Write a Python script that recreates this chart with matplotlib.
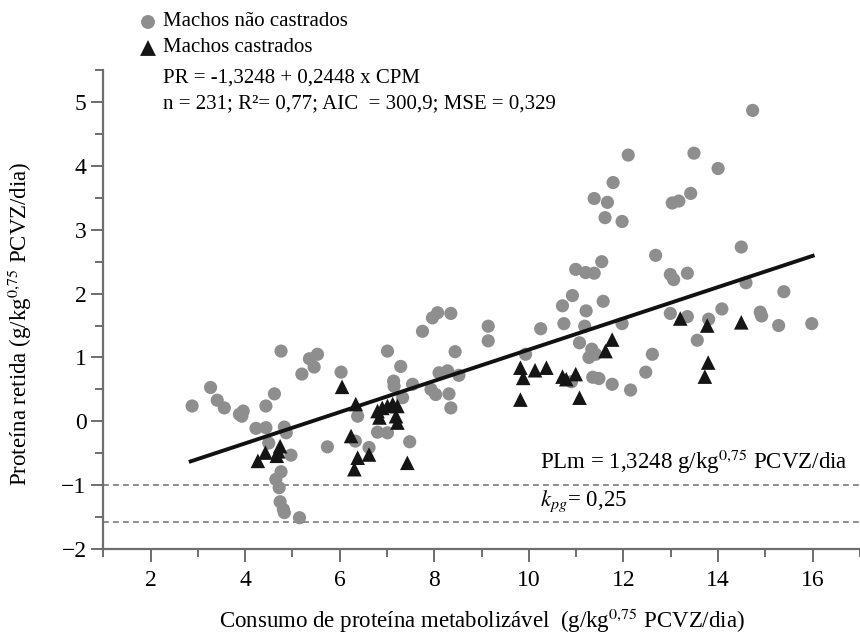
import numpy as np
import matplotlib
matplotlib.use("Agg")
import matplotlib.pyplot as plt
from matplotlib.ticker import MultipleLocator

plt.rcParams['font.family'] = ['Liberation Serif', 'DejaVu Serif']
plt.rcParams['mathtext.fontset'] = 'stix'

# Machos não castrados (CPM, PR)
nc_x = [2.88, 3.27, 3.41, 3.56, 3.88, 3.96, 3.93, 4.23, 4.44, 4.44, 4.62, 4.76,
        4.50, 4.83, 4.87, 4.97, 4.76, 4.65, 4.72, 4.74, 4.81, 4.83, 5.15, 5.20,
        5.36, 5.53, 5.46, 6.03, 5.74, 6.38, 6.33, 6.62, 6.80, 7.01, 7.01, 7.29,
        7.14, 7.15, 7.54, 7.33, 7.48, 7.75, 7.96, 8.07, 8.35, 7.93, 8.03, 8.31,
        8.35, 8.10, 8.28, 8.52, 8.44, 9.14, 9.14, 9.93, 10.25, 10.71, 10.74, 11.21,
        11.18, 11.07, 11.33, 11.41, 11.27, 11.97, 12.61, 12.47, 11.35, 11.48, 11.76,
        12.15, 12.99, 13.35, 13.56, 14.08, 14.89, 14.92, 15.28, 15.98, 10.90, 13.80,
        15.39, 14.59, 14.49, 14.73, 14.00, 13.49, 13.42, 13.17, 13.03, 12.10, 11.78,
        11.38, 11.66, 11.61, 11.97, 12.68, 11.54, 10.99, 11.20, 11.38, 12.99, 13.06,
        13.35, 10.92, 11.57]
nc_y = [0.24, 0.53, 0.33, 0.21, 0.11, 0.16, 0.08, -0.11, -0.10, 0.24, 0.43, 1.10,
        -0.34, -0.09, -0.18, -0.53, -0.79, -0.91, -1.04, -1.26, -1.38, -1.43, -1.51, 0.74,
        0.98, 1.05, 0.85, 0.77, -0.40, 0.08, -0.31, -0.41, -0.17, -0.18, 1.10, 0.86,
        0.63, 0.55, 0.58, 0.37, -0.32, 1.41, 1.62, 1.70, 1.69, 0.50, 0.42, 0.43,
        0.21, 0.76, 0.79, 0.72, 1.09, 1.49, 1.26, 1.05, 1.45, 1.81, 1.53, 1.73,
        1.49, 1.23, 1.13, 1.05, 1.00, 1.53, 1.05, 0.77, 0.69, 0.67, 0.58,
        0.49, 1.69, 1.64, 1.27, 1.76, 1.71, 1.65, 1.50, 1.53, 0.62, 1.60,
        2.03, 2.17, 2.73, 4.87, 3.96, 4.20, 3.57, 3.45, 3.42, 4.17, 3.74,
        3.49, 3.43, 3.19, 3.13, 2.60, 2.50, 2.38, 2.33, 2.32, 2.30, 2.22,
        2.32, 1.97, 1.88]

# Machos castrados (CPM, PR)
c_x = [4.27, 4.43, 4.67, 4.74, 4.70, 6.05, 6.34, 6.24, 6.38, 6.31, 6.62, 6.80,
       6.90, 7.01, 7.12, 7.22, 6.84, 7.19, 7.22, 7.43, 9.82, 9.88, 10.13, 10.37,
       9.82, 10.71, 10.79, 10.99, 11.07, 11.62, 11.76, 13.20, 13.77, 14.49, 13.79,
       13.72]
c_y = [-0.62, -0.49, -0.54, -0.39, -0.47, 0.54, 0.27, -0.23, -0.57, -0.75, -0.52, 0.16,
       0.21, 0.24, 0.27, 0.24, 0.06, 0.08, -0.02, -0.65, 0.84, 0.68, 0.80, 0.84,
       0.34, 0.70, 0.66, 0.74, 0.37, 1.10, 1.28, 1.61, 1.50, 1.55, 0.92,
       0.70]

# Regression PR = a + b * CPM
intercept = -1.3248
slope = 0.2448
fit_range = [2.85, 16.0]

# Reference lines
plm_line = -1.0
kpg_line = -1.57

gray = '#8e8e8e'
tri_col = '#151515'
spine_col = '#6e6e6e'

fig = plt.figure(figsize=(8.6, 6.38), dpi=100)
ax = fig.add_axes([0.12, 0.1395, 0.88, 0.7505])

ax.scatter(nc_x, nc_y, s=90, color=gray, edgecolors='none', zorder=2)
ax.scatter(c_x, c_y, s=110, marker='^', color=tri_col, edgecolors='none', zorder=3)

xf = np.array(fit_range)
ax.plot(xf, intercept + slope * xf, color='#111111', lw=2.8, zorder=4)

for yv in (plm_line, kpg_line):
    ax.axhline(yv, color='#7a7a7a', lw=1.2, ls=(0, (3.5, 2.5)), zorder=1)

ax.set_xlim(1, 17)
ax.set_ylim(-2, 5.5)
ax.xaxis.set_minor_locator(MultipleLocator(1))
ax.yaxis.set_minor_locator(MultipleLocator(0.5))
ax.set_xticks([2, 4, 6, 8, 10, 12, 14, 16])
ax.set_yticks([-2, -1, 0, 1, 2, 3, 4, 5])
ax.set_yticklabels(['\u22122', '\u22121', '0', '1', '2', '3', '4', '5'])

for side in ('top', 'right'):
    ax.spines[side].set_visible(False)
for side in ('left', 'bottom'):
    ax.spines[side].set_color(spine_col)
    ax.spines[side].set_linewidth(1.6)

ax.tick_params(which='major', length=9, width=1.4, color=spine_col,
               labelsize=17, direction='out')
ax.tick_params(axis='y', which='major', pad=3)
ax.tick_params(axis='x', which='major', pad=6)
ax.tick_params(which='minor', length=6, width=1.4, color=spine_col, direction='out')

ax.set_xlabel('Consumo de proteína metabolizável  (g/kg$^{0{,}75}$ PCVZ/dia)',
              fontsize=16.5, labelpad=11)
ax.set_ylabel('Proteína retida (g/kg$^{0{,}75}$ PCVZ/dia)', fontsize=16.5)
ax.yaxis.set_label_coords(-0.092, 0.47)

ax.text(10.23, -0.63, 'PLm = 1,3248 g/kg$^{0{,}75}$ PCVZ/dia', fontsize=16.5,
        ha='left', va='center')
ax.text(10.23, -1.25, '$k_{pg}$= 0,25', fontsize=16.5, ha='left', va='center')

# Legend and equation block above the axes
fig_w, fig_h = 860.0, 638.0
def fx(px):
    return px / fig_w
def fy(py):
    return 1 - py / fig_h

ax.scatter([fx(148)], [fy(22)], s=100, color=gray, edgecolors='none',
           transform=fig.transFigure, clip_on=False)
ax.scatter([fx(148)], [fy(48)], s=130, marker='^', color=tri_col, edgecolors='none',
           transform=fig.transFigure, clip_on=False)
fig.text(fx(163), fy(22), 'Machos não castrados', fontsize=15, ha='left', va='center')
fig.text(fx(163), fy(48), 'Machos castrados', fontsize=15, ha='left', va='center')
fig.text(fx(163), fy(78), 'PR = -1,3248 + 0,2448 x CPM', fontsize=15, ha='left', va='center')
fig.text(fx(163), fy(104), 'n = 231; R²= 0,77; AIC  = 300,9; MSE = 0,329', fontsize=15,
         ha='left', va='center')

fig.savefig('out.png', dpi=100)
